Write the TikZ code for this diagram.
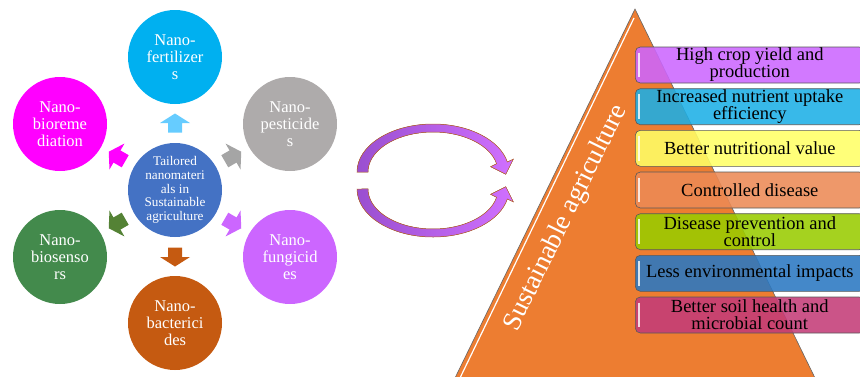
\documentclass[tikz,border=0pt]{standalone}
\usepackage{fontspec}
\setmainfont{Liberation Serif}
\definecolor{cFert}{HTML}{00B0F0}
\definecolor{cPest}{HTML}{AEABAB}
\definecolor{cFung}{HTML}{CC66FF}
\definecolor{cBact}{HTML}{C55A11}
\definecolor{cBios}{HTML}{438A4C}
\definecolor{cBiore}{HTML}{FF00FF}
\definecolor{cCtr}{HTML}{4472C4}
\definecolor{aBlue}{HTML}{66CCFF}
\definecolor{aGray}{HTML}{A5A5A5}
\definecolor{aPurp}{HTML}{CC66FF}
\definecolor{aBrown}{HTML}{C55A11}
\definecolor{aGreen}{HTML}{548235}
\definecolor{aMag}{HTML}{FF00FF}
\definecolor{triOr}{HTML}{ED7D31}
\definecolor{bPurp}{HTML}{CC66FF}
\definecolor{bBlue}{HTML}{1CAFE6}
\definecolor{bYel}{HTML}{FFFF66}
\definecolor{bOr}{HTML}{EC8A55}
\definecolor{bGreen}{HTML}{99CC00}
\definecolor{bDBlue}{HTML}{2A78C2}
\definecolor{bPink}{HTML}{C43C78}
\definecolor{curvL}{HTML}{9A4FD0}
\definecolor{curvR}{HTML}{D070FF}
\begin{document}
\begin{tikzpicture}[x=1pt,y=-1pt,
  circ/.style={circle,minimum size=94pt,inner sep=0pt,text=white,align=center,
    font=\fontsize{16.5}{17}\selectfont},
  ctrc/.style={circle,minimum size=94pt,inner sep=0pt,text=white,align=center,
    fill=cCtr,font=\fontsize{13.2}{13.8}\selectfont},
  benefit/.style={rectangle,rounded corners=5pt,draw=black!65,line width=0.6pt,
    preaction={fill=#1,fill opacity=0.88},minimum width=229pt,minimum height=36pt,
    anchor=west,inner sep=0pt,align=center,font=\fontsize{18.5}{17}\selectfont},
  curvarrow/.style={left color=curvL,right color=curvR,draw=triOr!80!black,line width=0.5pt},
]
\useasboundingbox (0,0) rectangle (860,376);

% central and outer circles
\node[ctrc] (ctr) at (175,190) {Tailored\\nanomateri\\als in\\Sustainable\\agriculture};
\node[circ,fill=cFert] (fert) at (175,57) {Nano-\\fertilizer\\s};
\node[circ,fill=cPest] (pest) at (290,124) {Nano-\\pesticide\\s};
\node[circ,fill=cFung] (fung) at (290,257) {Nano-\\fungicid\\es};
\node[circ,fill=cBact] (bact) at (175,323) {Nano-\\bacterici\\des};
\node[circ,fill=cBios] (bios) at (60,257) {Nano-\\biosenso\\rs};
\node[circ,fill=cBiore] (biore) at (60,124) {Nano-\\bioreme\\diation};

% block arrows from the centre outwards
\foreach \a/\c in {90/aBlue,30/aGray,-30/aPurp,-90/aBrown,-150/aGreen,150/aMag}
  \fill[\c,shift={(ctr.center)},rotate=\a]
    (57.5,-7) -- (67,-7) -- (67,-15) -- (76.5,0) -- (67,15) -- (67,7) -- (57.5,7) -- cycle;

% curved arrows
\filldraw[curvarrow] (357,172) arc[start angle=180,end angle=12,x radius=76pt,y radius=48pt]
  -- (513.4,159.1) -- (505.8,174.3) -- (490.6,166.7) -- (496.6,163.7)
  arc[start angle=12,end angle=180,x radius=65pt,y radius=40pt] -- cycle;
\filldraw[curvarrow] (357,189) arc[start angle=180,end angle=348,x radius=76pt,y radius=48pt]
  -- (513.4,201.9) -- (505.8,186.7) -- (490.6,194.3) -- (496.6,197.3)
  arc[start angle=348,end angle=180,x radius=65pt,y radius=40pt] -- cycle;

% pyramid
\coordinate (apex) at (635,9);
\coordinate (bl) at (455,378);
\coordinate (br) at (815,378);
\filldraw[fill=triOr,draw=black!60,line width=0.6pt] (apex) -- (bl) -- (br) -- cycle;
\coordinate (hl1) at (634,18);
\coordinate (hl2) at (460,378);
\draw[white,line width=1.2pt] (hl1) -- (hl2);
\node[text=white,rotate=63.8,font=\fontsize{27}{27}\selectfont] (sa) at (566,218) {Sustainable agriculture};

% benefit boxes
\foreach \n/\y/\c/\t in {
  b1/65/bPurp/{High crop yield and\\production},
  b2/106.7/bBlue/{Increased nutrient uptake\\efficiency},
  b3/148.3/bYel/{Better nutritional value},
  b4/190/bOr/{Controlled disease},
  b5/231.7/bGreen/{Disease prevention and\\control},
  b6/273.3/bDBlue/{Less environmental impacts},
  b7/315/bPink/{Better soil health and\\microbial count}}{
  \node[benefit=\c] (\n) at (635,\y) {\t};
  \draw[white,line width=1.2pt,opacity=0.8] ([shift={(4,6)}]\n.north west) -- ([shift={(4,-6)}]\n.south west);
}
\end{tikzpicture}
\end{document}
